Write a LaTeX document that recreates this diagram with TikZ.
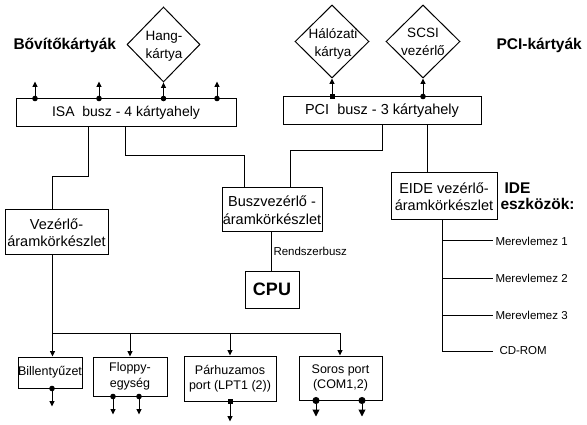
\documentclass[tikz,border=0pt]{standalone}
\usepackage{fontspec}
\setmainfont{Liberation Sans}
\usetikzlibrary{arrows.meta,shapes.geometric}
\newcommand\fMain{\fontsize{14}{17}\selectfont}
\newcommand\fPci{\fontsize{14.5}{17}\selectfont}
\newcommand\fBig{\fontsize{14.5}{17.5}\selectfont}
\newcommand\fDia{\fontsize{13.5}{18}\selectfont}
\newcommand\fBox{\fontsize{12.5}{15.5}\selectfont}
\newcommand\fSmall{\fontsize{11.5}{14}\selectfont}
\newcommand\fHead{\fontsize{15.5}{16}\selectfont\bfseries}
\begin{document}
\begin{tikzpicture}[x=1pt,y=-1pt,line width=1pt,
  box/.style={draw,inner sep=0pt,align=center},
  diam/.style={draw,diamond,inner sep=0pt},
  dtext/.style={align=center,inner sep=0pt,font=\fDia},
  head/.style={anchor=west,inner sep=0pt,font=\fHead},
  small/.style={inner sep=2pt,font=\fSmall},
  tipT/.style={-{Triangle[length=5.5pt,width=5pt]}},
  dotup/.style={{Circle[length=5.5pt]}-{Triangle[length=5.5pt,width=5pt]},shorten <=-2.75pt},
  squp/.style={{Square[length=5pt]}-{Triangle[length=5.5pt,width=5pt]},shorten <=-2.5pt},
  bigdot/.style={{Circle[length=7pt]}-{Triangle[length=7pt,width=7pt]},shorten <=-3.5pt}
]
\useasboundingbox (0,0) rectangle (587,425);
\fill[white] (0,0) rectangle (587,425);

% top buses
\node[box,minimum width=220pt,minimum height=28pt,font=\fMain] (isa) at (126,113) {ISA~ busz - 4 kártyahely};
\node[box,minimum width=198pt,minimum height=28pt,font=\fPci] (pci) at (382,111) {PCI~ busz - 3 kártyahely};

% diamonds
\node[diam,minimum width=73pt,minimum height=75pt] (hang) at (163.5,44.5) {};
\node[dtext] (hangt) at (164,46) {Hang-\\kártya};
\node[diam,minimum width=74pt,minimum height=73pt] (hal) at (332,41.5) {};
\node[dtext] (halt) at (333,43.5) {Hálózati\\kártya};
\node[diam,minimum width=74pt,minimum height=73pt] (scsi) at (423,41.5) {};
\node[dtext] (scsit) at (423,41.5) {SCSI\\vezérlő};

% headings
\node[head] (bov) at (13,45) {Bővítőkártyák};
\node[head] (pcik) at (496,45) {PCI-kártyák};
\node[head,align=left] (ide) at (500,196) {\hspace*{4pt}IDE\\eszközök:};

% chipsets
\node[box,minimum width=103pt,minimum height=45pt,font=\fBig] (vez) at (56.5,232.5) {Vezérlő-\\áramkörkészlet};
\node[box,minimum width=100pt,minimum height=44pt,font=\fBig] (busz) at (272,210) {Buszvezérlő -\\áramkörkészlet};
\node[box,minimum width=54pt,minimum height=37pt,font=\fontsize{18}{20}\selectfont\bfseries] (cpu) at (272,289.5) {CPU};
\node[box,minimum width=106pt,minimum height=47pt,font=\fBig] (eide) at (444,196.5) {EIDE vezérlő-\\áramkörkészlet};

% peripherals
\node[box,minimum width=64pt,minimum height=31pt,font=\fBox] (bill) at (50,372.5) {Billentyűzet};
\node[box,minimum width=74pt,minimum height=39pt,font=\fBox] (flop) at (130,376.5) {Floppy-\\egység};
\node[box,minimum width=92pt,minimum height=45pt,font=\fBox] (par) at (230,378.5) {Párhuzamos\\port (LPT1 (2))};
\node[box,minimum width=83pt,minimum height=44pt,font=\fBox] (sor) at (340.5,378) {Soros port\\(COM1,2)};

% IDE devices
\node[small,anchor=west] (m1) at (493,241) {Merevlemez 1};
\node[small,anchor=west] (m2) at (493,278) {Merevlemez 2};
\node[small,anchor=west] (m3) at (493,315) {Merevlemez 3};
\node[small,anchor=west] (cd) at (497,351) {CD-ROM};

% ISA card slots
\draw[dotup] ([xshift=-91pt]isa.north) -- ([xshift=-91pt,yshift=17pt]isa.north);
\draw[dotup] ([xshift=-27pt]isa.north) -- ([xshift=-27pt,yshift=17pt]isa.north);
\draw[dotup] ([xshift=37.5pt]isa.north) -- (hang.south);
\draw[dotup] ([xshift=91pt]isa.north) -- ([xshift=91pt,yshift=17pt]isa.north);

% PCI card slots
\draw[squp] ([xshift=-50pt]pci.north) -- (hal.south);
\draw[dotup] ([xshift=41pt]pci.north) -- (scsi.south);

% bus connections
\draw ([xshift=-38pt]isa.south) |- ([xshift=-4pt,yshift=33pt]vez.north) -- ([xshift=-4pt]vez.north);
\draw ([xshift=-1pt]isa.south) |- ([xshift=-28pt,yshift=32pt]busz.north) -- ([xshift=-28pt]busz.north);
\draw (pci.south) |- ([xshift=18pt,yshift=37pt]busz.north) -- ([xshift=18pt]busz.north);
\draw ([xshift=45pt]pci.south) -- ([xshift=-17pt]eide.north);
\draw ([xshift=-1pt]busz.south) -- node[small,right,pos=0.5]{Rendszerbusz} ([xshift=-1pt]cpu.north);

% IDE branches
\draw ([xshift=-2pt]eide.south) |- (m1.west);
\draw ([xshift=-2pt]eide.south) |- (m2.west);
\draw ([xshift=-2pt]eide.south) |- (m3.west);
\draw ([xshift=-2pt]eide.south) |- ([xshift=-4pt]cd.west);

% peripheral bus
\coordinate (busL) at (52.5,333);
\coordinate (busR) at (340,333);
\draw ([xshift=-4pt]vez.south) -- (busL) -- (busR);
\draw[tipT] (busL) -- ([xshift=2.5pt]bill.north);
\draw[tipT] (flop.north |- busL) -- (flop.north);
\draw[tipT] (par.north |- busL) -- (par.north);
\draw[tipT] (busR) -- ([xshift=-0.5pt]sor.north);

% peripheral outputs
\draw[dotup] ([xshift=2pt]bill.south) -- ([xshift=2pt,yshift=-18pt]bill.south);
\draw[dotup] ([xshift=-17pt]flop.south) -- ([xshift=-17pt,yshift=-18pt]flop.south);
\draw[dotup] ([xshift=9pt]flop.south) -- ([xshift=9pt,yshift=-18pt]flop.south);
\draw[squp] (par.south) -- ([yshift=-20pt]par.south);
\draw[bigdot] ([xshift=-24.5pt]sor.south) -- ([xshift=-24.5pt,yshift=-16pt]sor.south);
\draw[bigdot] ([xshift=21.5pt]sor.south) -- ([xshift=21.5pt,yshift=-16pt]sor.south);
\end{tikzpicture}
\end{document}
